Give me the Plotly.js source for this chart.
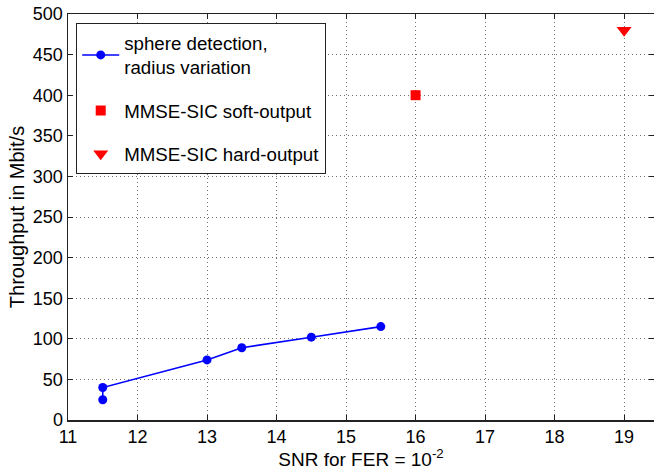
<!DOCTYPE html>
<html><head><meta charset="utf-8">
<script src="https://cdn.plot.ly/plotly-3.0.1.min.js"></script>
<style>html,body{margin:0;padding:0;background:#fff}#chart{width:654px;height:470px}</style>
</head><body><div id="chart"></div>
<script>
const sphereSNR = [11.5, 11.5, 13, 13.5, 14.5, 15.5];
const sphereThroughput = [25, 40, 74, 89, 102, 115];
const softSNR = [16];
const softThroughput = [400];
const hardSNR = [19];
const hardThroughput = [480];
const xTicks = [11,12,13,14,15,16,17,18,19,20];
const yTicks = [0,50,100,150,200,250,300,350,400,450,500];
const names = ['sphere detection,<br>radius variation','MMSE-SIC soft-output','MMSE-SIC hard-output'];

const F = 'Liberation Sans, Arial, sans-serif';
const traces = [
  {x: sphereSNR, y: sphereThroughput, name: names[0], legendgroup: 'a', mode: 'lines+markers',
   line: {color: '#0000ff', width: 1.6}, marker: {color: '#0000ff', size: 9, symbol: 'circle'}},
  {x: softSNR, y: softThroughput, name: names[1], legendgroup: 'b', mode: 'markers',
   marker: {color: '#ff0000', size: 10, symbol: 'square'}},
  {x: hardSNR, y: hardThroughput, name: names[2], legendgroup: 'c', mode: 'markers',
   marker: {color: '#ff0000', size: 13, symbol: 'triangle-down'}}
];
const axisCommon = {
  showgrid: true, gridcolor: '#707070', griddash: '1px,3px', gridwidth: 1,
  showline: true, linecolor: '#222', linewidth: 1.5, mirror: 'ticks',
  ticks: 'inside', ticklen: 5, tickcolor: '#222', zeroline: false,
  tickfont: {family: F, size: 18, color: '#000'}
};
const layout = {
  width: 654, height: 470,
  margin: {l: 68, r: 0, t: 14, b: 50},
  paper_bgcolor: '#fff', plot_bgcolor: '#fff',
  font: {family: F, color: '#000'},
  xaxis: Object.assign({}, axisCommon, {range: [11, 19.43], tickvals: xTicks,
    title: {text: 'SNR for FER = 10<sup>-2</sup>', font: {family: F, size: 19}, standoff: 2}}),
  yaxis: Object.assign({}, axisCommon, {range: [0, 500], tickvals: yTicks,
    title: {text: 'Throughput in Mbit/s', font: {family: F, size: 20}, standoff: 3}}),
  legend: {x: 0.0137, y: 0.978, xanchor: 'left', yanchor: 'top',
    bgcolor: '#fff', bordercolor: '#222', borderwidth: 1.2, itemwidth: 37,
    font: {family: F, size: 18.7, color: '#000'}, tracegroupgap: 16},
  showlegend: true
};
Plotly.newPlot('chart', traces, layout, {displayModeBar: false, staticPlot: true});
</script></body></html>
